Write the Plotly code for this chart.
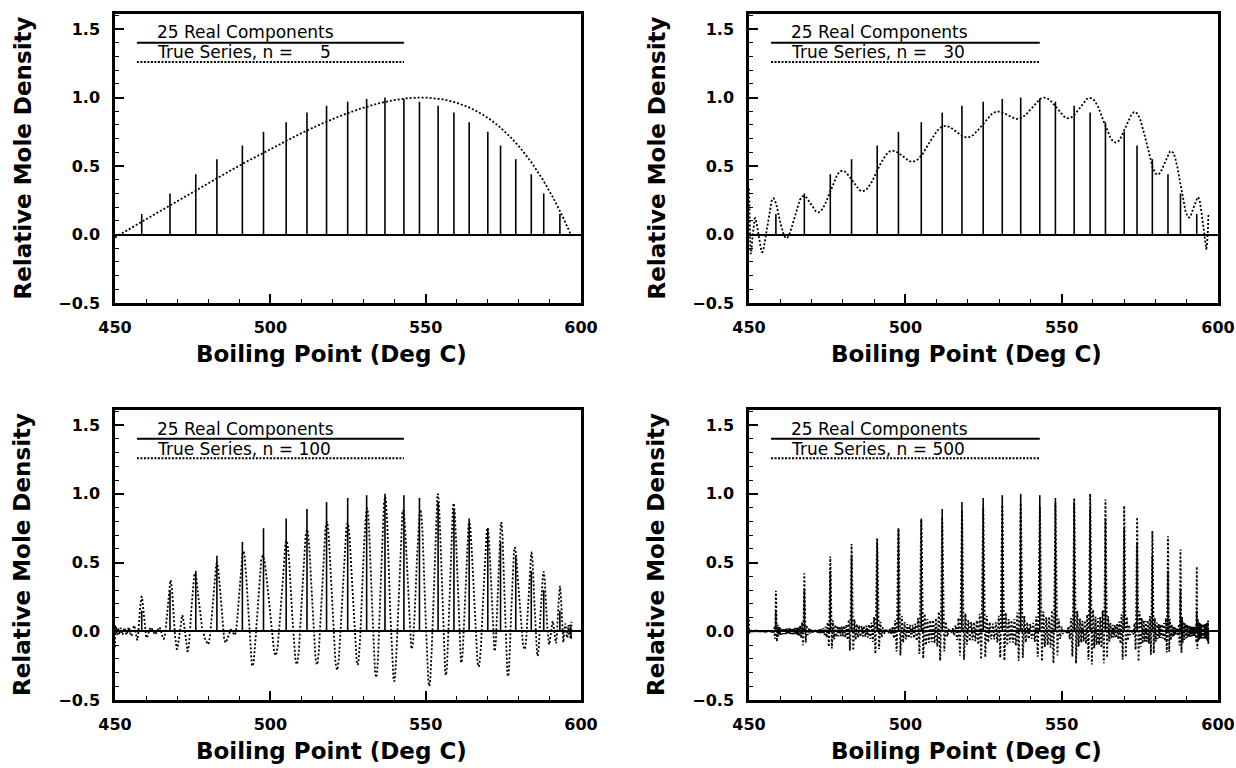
import numpy as np
from numpy.polynomial import legendre as leg
import plotly.graph_objects as go

# ---- data ----
bp = [450.0, 458.6, 467.7, 476.0, 482.8, 491.0, 497.8, 505.1, 511.8, 518.1, 524.9, 531.0, 536.9,
      543.0, 548.0, 554.0, 559.1, 564.0, 570.0, 574.1, 579.0, 584.0, 588.0, 593.2, 597.0]
mole = [0.0, 0.15, 0.30, 0.44, 0.55, 0.65, 0.75, 0.82, 0.89, 0.94, 0.97, 0.99, 1.00,
        0.99, 0.97, 0.94, 0.89, 0.82, 0.75, 0.65, 0.55, 0.44, 0.30, 0.15, 0.0]
series_terms = [5, 30, 100, 500]
x_ticks = [450, 500, 550, 600]
y_ticks = [-0.5, 0.0, 0.5, 1.0, 1.5]
legend_real = "25 Real Components"
legend_series = "True Series, n = "
bp_lo, bp_hi = 450.0, 597.0


def true_series(n, grid):
    """Truncated orthogonal (Legendre) series of the discrete components on [bp_lo, bp_hi]."""
    def to_t(v):
        return 2.0 * (np.asarray(v) - bp_lo) / (bp_hi - bp_lo) - 1.0
    V = leg.legvander(to_t(bp), n)              # P_k(t_i)
    k = np.arange(n + 1)
    c = (2 * k + 1) / 2.0 * (V.T @ np.asarray(mole))
    f = leg.legval(to_t(grid), c)
    return f / f.max()


W, H = 1236, 768
panels = [  # (left, right, top, bottom) in px
    (115, 581, 14, 303),
    (749, 1218, 14, 303),
    (115, 581, 410, 700),
    (749, 1218, 410, 700),
]


def px(xs):
    return xs / W


def py(ys):
    return 1 - ys / H


fig = go.Figure()
grid = np.linspace(bp_lo, bp_hi - 0.05, 9000)

stem_x, stem_y = [], []
for xv, hv in zip(bp, mole):
    stem_x += [xv, xv, None]
    stem_y += [0, hv, None]

FONT = "DejaVu Sans"
layout = dict(width=W, height=H, margin=dict(l=0, r=0, t=0, b=0, autoexpand=False),
              template="none",
              paper_bgcolor="white", plot_bgcolor="white", showlegend=False)
annotations = []
shapes = []

for i, (n, (l, r, t, b)) in enumerate(zip(series_terms, panels)):
    sfx = "" if i == 0 else str(i + 1)
    xa, ya = "x" + sfx, "y" + sfx
    fig.add_trace(go.Scatter(x=stem_x, y=stem_y, mode="lines",
                             line=dict(color="black", width=1.6),
                             xaxis=xa, yaxis=ya, hoverinfo="skip"))
    fig.add_trace(go.Scatter(x=grid, y=true_series(n, grid), mode="lines",
                             line=dict(color="black", width=1.8, dash="2px,2px"),
                             xaxis=xa, yaxis=ya, hoverinfo="skip"))
    layout["xaxis" + sfx] = dict(
        domain=[px(l), px(r)], anchor=ya, range=[450, 600], automargin=False,
        tickmode="array", tickvals=x_ticks, ticks="inside", ticklen=9, tickwidth=1.5,
        tickcolor="black", showline=True, linewidth=2.5, linecolor="black", mirror=True,
        showgrid=False, zeroline=False, ticklabelstandoff=8,
        tickfont=dict(family=FONT, size=16, weight="bold", color="black"),
        minor=dict(tickmode="linear", tick0=450, dtick=10, ticks="inside", ticklen=4,
                   tickwidth=1.2, tickcolor="black", showgrid=False))
    layout["yaxis" + sfx] = dict(
        domain=[py(b), py(t)], anchor=xa, range=[-0.5, 1.61], automargin=False,
        tickmode="array", tickvals=y_ticks, tickformat=".1f", ticks="inside", ticklen=9,
        tickwidth=1.5, tickcolor="black", showline=True, linewidth=2.5, linecolor="black",
        mirror=True, showgrid=False, zeroline=True, zerolinecolor="black", zerolinewidth=2,
        ticklabelstandoff=9,
        tickfont=dict(family=FONT, size=16, weight="bold", color="black"),
        minor=dict(tickmode="linear", tick0=-0.5, dtick=0.1, ticks="inside", ticklen=4,
                   tickwidth=1.2, tickcolor="black", showgrid=False))

    xd, yd = xa + " domain", ya + " domain"
    shapes.append(dict(type="line", xref=xd, yref=yd, x0=0.047, x1=0.62, y0=0.9005, y1=0.9005,
                       line=dict(color="black", width=2)))
    shapes.append(dict(type="line", xref=xd, yref=yd, x0=0.047, x1=0.62, y0=0.834, y1=0.834,
                       line=dict(color="black", width=2, dash="2px,1.5px")))
    annotations.append(dict(text=legend_real, xref=xd, yref=yd, x=0.085, y=0.936,
                            xanchor="left", yanchor="middle", showarrow=False,
                            font=dict(family=FONT, size=17, color="black")))
    num = str(n).rjust(3).replace(" ", "\u00a0\u00a0")
    annotations.append(dict(text=legend_series + num, xref=xd, yref=yd, x=0.085, y=0.867,
                            xanchor="left", yanchor="middle", showarrow=False,
                            font=dict(family=FONT, size=17, color="black")))

    # axis titles
    annotations.append(dict(text="Boiling Point (Deg C)", xref="paper", yref="paper",
                            x=px((l + r) / 2 - 17), y=py(b + 51),
                            xanchor="center", yanchor="middle", showarrow=False,
                            font=dict(family=FONT, size=23, weight="bold", color="black")))
    annotations.append(dict(text="Relative Mole Density", xref="paper", yref="paper",
                            x=px(l - 93), y=py((t + b) / 2), textangle=-90,
                            xanchor="center", yanchor="middle", showarrow=False,
                            font=dict(family=FONT, size=23, weight="bold", color="black")))

layout["annotations"] = annotations
layout["shapes"] = shapes
fig.update_layout(**layout)
fig.write_html("out.html", config={"displayModeBar": False},
               post_script="document.body.style.margin='0px';document.body.style.overflow='hidden';")
